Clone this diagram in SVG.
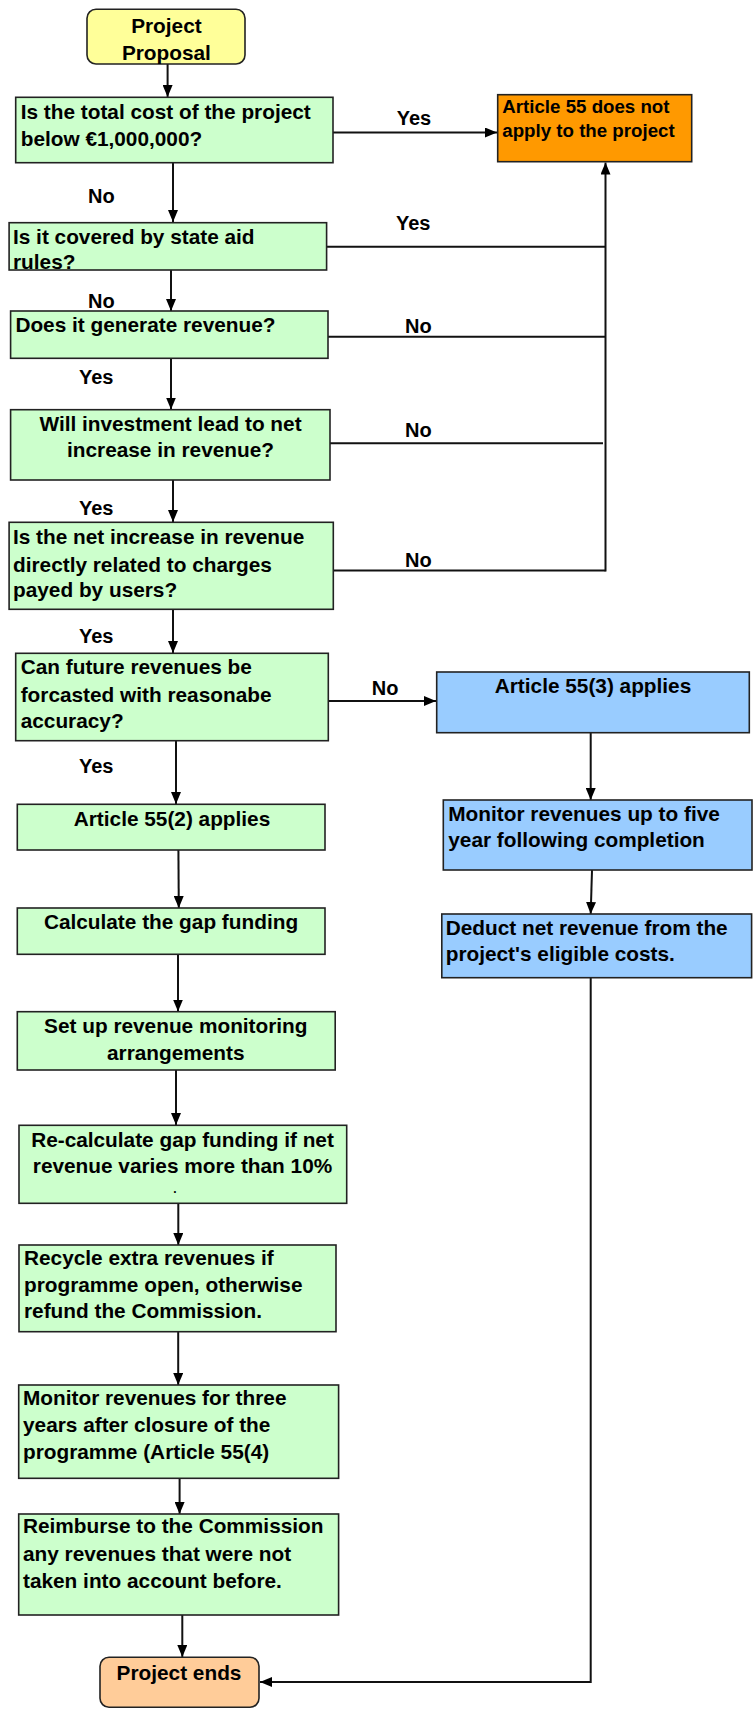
<svg xmlns="http://www.w3.org/2000/svg" width="753" height="1709" viewBox="0 0 753 1709">
<style>
text{font-family:"Liberation Sans",Arial,sans-serif;font-weight:bold;fill:#000}
.t{font-size:20.8px}
.s{font-size:18.7px}
.l{font-size:20px}
.c{text-anchor:middle}
.box{stroke:#222;stroke-width:1.6}
.g{fill:#CCFFCC}
.o{fill:#FF9900}
.b{fill:#99CCFF}
.y{fill:#FFFF99}
.p{fill:#FFCC99}
.e{fill:none;stroke:#111;stroke-width:2}
.a{marker-end:url(#ah)}
</style>
<defs>
<marker id="ah" viewBox="0 0 12 10" refX="12" refY="5" markerWidth="12" markerHeight="10" markerUnits="userSpaceOnUse" orient="auto">
<path d="M0,0 L12,5 L0,10 z" fill="#000"/>
</marker>
</defs>
<rect width="753" height="1709" fill="#fff"/>

<g id="connectors">
<path class="e a" d="M167.6,64 L167.6,97"/>
<path class="e a" d="M332,132.5 L497,132.5"/>
<path class="e a" d="M173,163 L173,222"/>
<path class="e" d="M327,246.7 L605.5,246.7"/>
<path class="e a" d="M605.5,571.5 L605.5,162.5"/>
<path class="e a" d="M171,270 L171,311"/>
<path class="e" d="M328,336.7 L606,336.7"/>
<path class="e a" d="M171,358 L171,409.5"/>
<path class="e" d="M330,443.3 L603,443.3"/>
<path class="e a" d="M173,480 L173,522"/>
<path class="e" d="M333,570.5 L605.5,570.5"/>
<path class="e a" d="M173,609 L173,653"/>
<path class="e a" d="M328,701 L436,701"/>
<path class="e a" d="M176,741 L176,804"/>
<path class="e a" d="M178.4,850 L178.8,908"/>
<path class="e a" d="M178,954 L178,1011.5"/>
<path class="e a" d="M176,1070 L176,1125"/>
<path class="e a" d="M178.3,1203 L178.3,1245"/>
<path class="e a" d="M178.2,1332 L178.2,1385"/>
<path class="e a" d="M179.6,1478 L179.6,1514"/>
<path class="e a" d="M182.3,1615 L182.3,1657"/>
<path class="e a" d="M590.7,733 L590.7,800"/>
<path class="e a" d="M592,870 L590.7,914"/>
<path class="e a" d="M590.7,978 L590.7,1682 L260,1682"/>
<text class="l" x="396.7" y="125">Yes</text>
<text class="l" x="88" y="203">No</text>
<text class="l" x="396" y="230">Yes</text>
<text class="l" x="88" y="307.7">No</text>
<text class="l" x="405" y="333.3">No</text>
<text class="l" x="79" y="384.3">Yes</text>
<text class="l" x="405" y="436.7">No</text>
<text class="l" x="79" y="515">Yes</text>
<text class="l" x="405" y="566.7">No</text>
<text class="l" x="79" y="643.3">Yes</text>
<text class="l" x="371.7" y="695">No</text>
<text class="l" x="79" y="773.3">Yes</text>
</g>

<g id="start">
<rect class="box y" x="87" y="9.3" width="158" height="54.7" rx="9"/>
<text class="t c" x="166.4" y="33.3">Project</text>
<text class="t c" x="166.4" y="60">Proposal</text>
</g>

<g id="q1">
<rect class="box g" x="15.7" y="97.3" width="317.3" height="65.4"/>
<text class="t" x="20.7" y="119.3">Is the total cost of the project</text>
<text class="t" x="20.7" y="146">below €1,000,000?</text>
</g>

<g id="notapply">
<rect class="box o" x="497.7" y="94.7" width="194" height="67"/>
<text class="s" x="502.3" y="113.3">Article 55 does not</text>
<text class="s" x="502.3" y="137.3">apply to the project</text>
</g>

<g id="q2">
<rect class="box g" x="9.1" y="222.7" width="317.5" height="47.3"/>
<text class="t" x="13" y="244">Is it covered by state aid</text>
<text class="t" x="13" y="269">rules?</text>
</g>

<g id="q3">
<rect class="box g" x="10.6" y="311" width="317.4" height="47.3"/>
<text class="t" x="15.4" y="331.7">Does it generate revenue?</text>
</g>

<g id="q4">
<rect class="box g" x="10.6" y="409.7" width="319.4" height="70.3"/>
<text class="t c" x="170.5" y="430.7">Will investment lead to net</text>
<text class="t c" x="170.5" y="457.3">increase in revenue?</text>
</g>

<g id="q5">
<rect class="box g" x="9.1" y="522.3" width="324.2" height="87"/>
<text class="t" x="13" y="544">Is the net increase in revenue</text>
<text class="t" x="13" y="571.7">directly related to charges</text>
<text class="t" x="13" y="597.3">payed by users?</text>
</g>

<g id="q6">
<rect class="box g" x="15.7" y="653.3" width="312.6" height="87.4"/>
<text class="t" x="20.7" y="674.3">Can future revenues be</text>
<text class="t" x="20.7" y="701.7">forcasted with reasonabe</text>
<text class="t" x="20.7" y="728.3">accuracy?</text>
</g>

<g id="art553">
<rect class="box b" x="436.7" y="672" width="312.6" height="60.7"/>
<text class="t c" x="593" y="692.7">Article 55(3) applies</text>
</g>

<g id="monitor5">
<rect class="box b" x="443.3" y="800" width="308.7" height="70"/>
<text class="t" x="448.3" y="820.7">Monitor revenues up to five</text>
<text class="t" x="448.3" y="847.3">year following completion</text>
</g>

<g id="deduct">
<rect class="box b" x="441.8" y="914" width="309.8" height="63.7"/>
<text class="t" x="445.7" y="935">Deduct net revenue from the</text>
<text class="t" x="445.7" y="960.7">project's eligible costs.</text>
</g>

<g id="art552">
<rect class="box g" x="17.3" y="804.3" width="307.7" height="45.7"/>
<text class="t c" x="172" y="825.7">Article 55(2) applies</text>
</g>

<g id="calc">
<rect class="box g" x="17.3" y="908" width="307.7" height="46.3"/>
<text class="t c" x="171" y="929.3">Calculate the gap funding</text>
</g>

<g id="setup">
<rect class="box g" x="17.3" y="1011.7" width="317.9" height="58.3"/>
<text class="t c" x="175.8" y="1033.3">Set up revenue monitoring</text>
<text class="t c" x="175.8" y="1060">arrangements</text>
</g>

<g id="recalc">
<rect class="box g" x="19" y="1125.3" width="327.7" height="78"/>
<text class="t c" x="182.5" y="1146.7">Re-calculate gap funding if net</text>
<text class="t c" x="182.5" y="1173.3">revenue varies more than 10%</text>
<text class="t c" x="175" y="1193" style="font-size:12px">.</text>
</g>

<g id="recycle">
<rect class="box g" x="19" y="1245" width="317" height="86.7"/>
<text class="t" x="24" y="1265">Recycle extra revenues if</text>
<text class="t" x="24" y="1291.7">programme open, otherwise</text>
<text class="t" x="24" y="1318.3">refund the Commission.</text>
</g>

<g id="monitor3">
<rect class="box g" x="18.7" y="1385" width="319.9" height="93.3"/>
<text class="t" x="23" y="1405">Monitor revenues for three</text>
<text class="t" x="23" y="1431.7">years after closure of the</text>
<text class="t" x="23" y="1459.3">programme (Article 55(4)</text>
</g>

<g id="reimburse">
<rect class="box g" x="18.7" y="1514" width="319.9" height="101"/>
<text class="t" x="23" y="1533.3">Reimburse to the Commission</text>
<text class="t" x="23" y="1560.7">any revenues that were not</text>
<text class="t" x="23" y="1588.3">taken into account before.</text>
</g>

<g id="end">
<rect class="box p" x="100" y="1657.3" width="159" height="50" rx="9"/>
<text class="t c" x="179" y="1680">Project ends</text>
</g>
</svg>
